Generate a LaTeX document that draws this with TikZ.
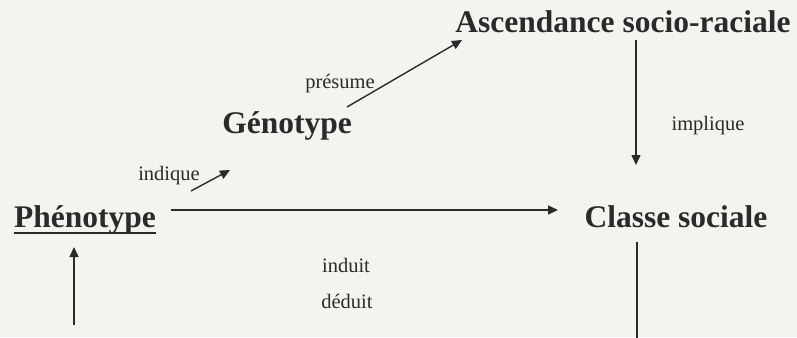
\documentclass[tikz,border=0pt]{standalone}
\usepackage{fontspec}
\setmainfont{Liberation Serif}
\usetikzlibrary{arrows.meta,positioning,calc}
\definecolor{paper}{RGB}{244,243,240}
\definecolor{ink}{RGB}{42,42,42}

\begin{document}
\begin{tikzpicture}[x=1pt,y=-1pt,
  term/.style={font=\bfseries\fontsize{31.5}{36}\selectfont,text=ink,inner sep=0pt,anchor=base},
  verb/.style={font=\fontsize{20.5}{24}\selectfont,text=ink,inner sep=0pt,anchor=base},
  link/.style={draw=ink,line width=1.4pt,-{Triangle[length=10pt,width=9pt]}}]
\fill[paper] (0,0) rectangle (797,337);
\useasboundingbox (0,0) rectangle (797,337);

% the four terms
\node[term] (asc) at (623,33) {Ascendance socio-raciale};
\node[term] (geno) at (287,133) {Génotype};
\node[term] (pheno) at (85,227) {Phénotype};
\node[term] (classe) at (676,227) {Classe sociale};
\draw[ink,line width=1.6pt] ($(pheno.base west)+(0,6)$) -- ($(pheno.base east)+(0,6)$);

% the verbs
\node[verb] (presume) at (340,88) {présume};
\node[verb] (indique) at (169,180) {indique};
\node[verb] (implique) at (708,130) {implique};
\node[verb] (induit) at (346,272) {induit};
\node[verb] (deduit) at (347,308) {déduit};

% ends of the arrows
\coordinate (g1) at (347,107);
\coordinate (a1) at (462,40);
\coordinate (i1) at (191,191);
\coordinate (i2) at (230,170);
\coordinate (a2) at (636,40);
\coordinate (c1) at (636,165);
\coordinate (p1) at (171,210);
\coordinate (c2) at (558,210);
\coordinate (c3) at (637,242);
\coordinate (c4) at (637,340);
\coordinate (b1) at (74,325);
\coordinate (p2) at (74,247);

\draw[link] (g1) -- (a1);
\draw[link] (i1) -- (i2);
\draw[link] (a2) -- (c1);
\draw[link] (p1) -- (c2);
\draw[ink,line width=1.4pt] (c3) -- (c4);
\draw[link] (b1) -- (p2);
\end{tikzpicture}
\end{document}
